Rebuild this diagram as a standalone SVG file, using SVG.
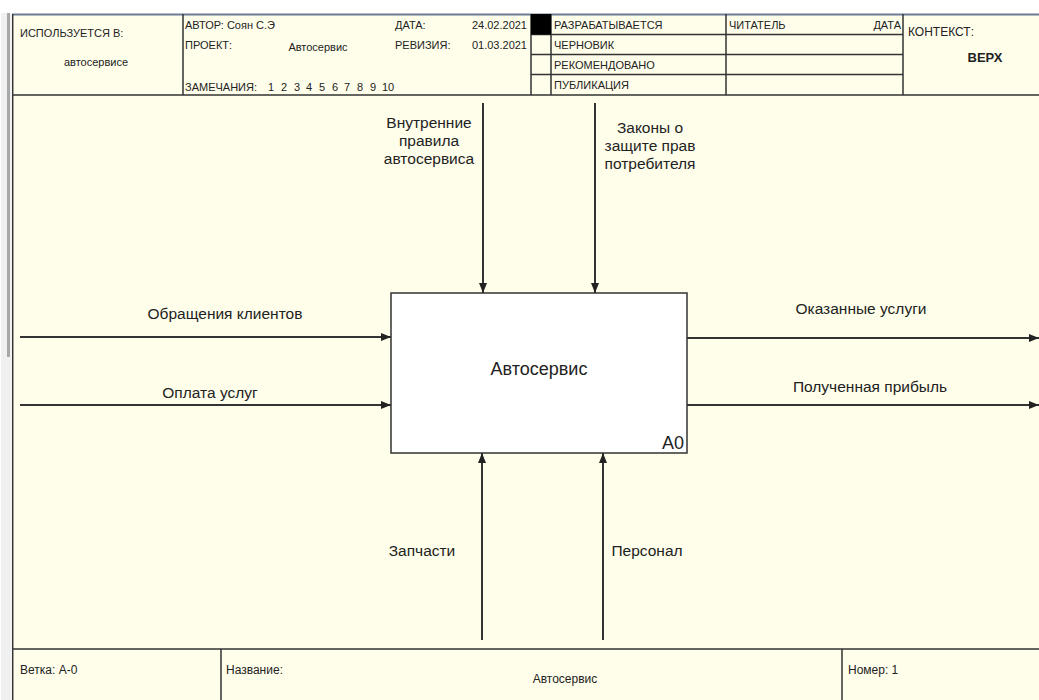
<svg xmlns="http://www.w3.org/2000/svg" width="1039" height="700" viewBox="0 0 1039 700">
<style>
.hd{font-family:"Liberation Sans",Arial,sans-serif;font-size:11px;fill:#222}
.ft{font-family:"Liberation Sans",Arial,sans-serif;font-size:12px;fill:#222}
.lb{font-family:"Liberation Sans",Arial,sans-serif;font-size:15.5px;fill:#222}
.ln{stroke:#333;stroke-width:1.5;fill:none}
.ar{stroke:#333;stroke-width:2;fill:none}
</style>
<defs>
<marker id="ah" viewBox="0 0 10 8" refX="10" refY="4" markerWidth="10" markerHeight="8" markerUnits="userSpaceOnUse" orient="auto">
<path d="M0,0 L10,4 L0,8 Z" fill="#222"/>
</marker>
</defs>
<rect x="0" y="0" width="1039" height="700" fill="#ffffff"/>
<rect x="1" y="13" width="10" height="687" fill="#f0f0f0"/>
<rect x="7" y="13" width="3" height="344" fill="#a8a8a8"/>
<rect x="13" y="14" width="1026" height="686" fill="#fffeeb"/>
<line x1="12" y1="14.5" x2="1039" y2="14.5" stroke="#6d7b96" stroke-width="2"/>
<line x1="12.7" y1="14" x2="12.7" y2="700" stroke="#333" stroke-width="1.5"/>

<g id="header">
<line class="ln" x1="13" y1="95" x2="1039" y2="95"/>
<line class="ln" x1="183" y1="14" x2="183" y2="95"/>
<line class="ln" x1="531" y1="14" x2="531" y2="95"/>
<line class="ln" x1="551" y1="14" x2="551" y2="95"/>
<line class="ln" x1="726" y1="14" x2="726" y2="95"/>
<line class="ln" x1="903" y1="14" x2="903" y2="95"/>
<line class="ln" x1="531" y1="34.5" x2="903" y2="34.5"/>
<line class="ln" x1="531" y1="54.5" x2="903" y2="54.5"/>
<line class="ln" x1="531" y1="74.5" x2="903" y2="74.5"/>
<rect x="531" y="14" width="20" height="20.5" fill="#000"/>
<text class="hd" x="20" y="37">ИСПОЛЬЗУЕТСЯ В:</text>
<text class="hd" x="96" y="66" text-anchor="middle">автосервисе</text>
<text class="hd" x="185" y="29">АВТОР: Соян С.Э</text>
<text class="hd" x="185" y="49">ПРОЕКТ:</text>
<text class="hd" x="318" y="51" text-anchor="middle">Автосервис</text>
<text class="hd" y="91"><tspan x="185">ЗАМЕЧАНИЯ:</tspan><tspan x="268">1</tspan><tspan x="281">2</tspan><tspan x="294">3</tspan><tspan x="306">4</tspan><tspan x="319">5</tspan><tspan x="332">6</tspan><tspan x="344">7</tspan><tspan x="357">8</tspan><tspan x="370">9</tspan><tspan x="382">10</tspan></text>
<text class="hd" x="395" y="29">ДАТА:</text>
<text class="hd" x="527" y="29" text-anchor="end">24.02.2021</text>
<text class="hd" x="395" y="49">РЕВИЗИЯ:</text>
<text class="hd" x="527" y="49" text-anchor="end">01.03.2021</text>
<text class="hd" x="554" y="29">РАЗРАБАТЫВАЕТСЯ</text>
<text class="hd" x="554" y="49">ЧЕРНОВИК</text>
<text class="hd" x="554" y="69">РЕКОМЕНДОВАНО</text>
<text class="hd" x="554" y="89">ПУБЛИКАЦИЯ</text>
<text class="hd" x="729" y="29">ЧИТАТЕЛЬ</text>
<text class="hd" x="901" y="29" text-anchor="end">ДАТА</text>
<text class="hd" x="908" y="36" style="font-size:12px">КОНТЕКСТ:</text>
<text class="hd" x="985" y="62" text-anchor="middle" style="font-size:13px;font-weight:bold">ВЕРХ</text>
</g>

<g id="footer">
<line class="ln" x1="13" y1="649" x2="1039" y2="649"/>
<line class="ln" x1="221" y1="649" x2="221" y2="700"/>
<line class="ln" x1="842" y1="649" x2="842" y2="700"/>
<text class="ft" x="20" y="674">Ветка: А-0</text>
<text class="ft" x="226" y="674">Название:</text>
<text class="ft" x="565" y="683" text-anchor="middle">Автосервис</text>
<text class="ft" x="848" y="674">Номер: 1</text>
</g>

<g id="A0">
<rect x="391" y="293" width="296" height="160" fill="#ffffff" stroke="#333" stroke-width="1.5"/>
<text class="lb" x="539" y="375" text-anchor="middle" style="font-size:18px">Автосервис</text>
<text class="lb" x="684" y="449" text-anchor="end" style="font-size:18px">A0</text>
</g>

<g id="connectors">
<line class="ar" x1="20" y1="337" x2="391" y2="337" marker-end="url(#ah)"/>
<line class="ar" x1="20" y1="405" x2="391" y2="405" marker-end="url(#ah)"/>
<line class="ar" x1="687" y1="338" x2="1039" y2="338" marker-end="url(#ah)"/>
<line class="ar" x1="687" y1="405" x2="1039" y2="405" marker-end="url(#ah)"/>
<line class="ar" x1="483" y1="103" x2="483" y2="293" marker-end="url(#ah)"/>
<line class="ar" x1="595" y1="103" x2="595" y2="293" marker-end="url(#ah)"/>
<line class="ar" x1="482" y1="640" x2="482" y2="453" marker-end="url(#ah)"/>
<line class="ar" x1="603" y1="640" x2="603" y2="453" marker-end="url(#ah)"/>
<text class="lb" x="225" y="319" text-anchor="middle">Обращения клиентов</text>
<text class="lb" x="210" y="398" text-anchor="middle">Оплата услуг</text>
<text class="lb" x="861" y="314" text-anchor="middle">Оказанные услуги</text>
<text class="lb" x="870" y="392" text-anchor="middle">Полученная прибыль</text>
<text class="lb" text-anchor="middle"><tspan x="429" y="128">Внутренние</tspan><tspan x="429" y="146">правила</tspan><tspan x="429" y="164">автосервиса</tspan></text>
<text class="lb" text-anchor="middle"><tspan x="650" y="133">Законы о</tspan><tspan x="650" y="151">защите прав</tspan><tspan x="650" y="169">потребителя</tspan></text>
<text class="lb" x="422" y="556" text-anchor="middle">Запчасти</text>
<text class="lb" x="647" y="556" text-anchor="middle">Персонал</text>
</g>
</svg>
